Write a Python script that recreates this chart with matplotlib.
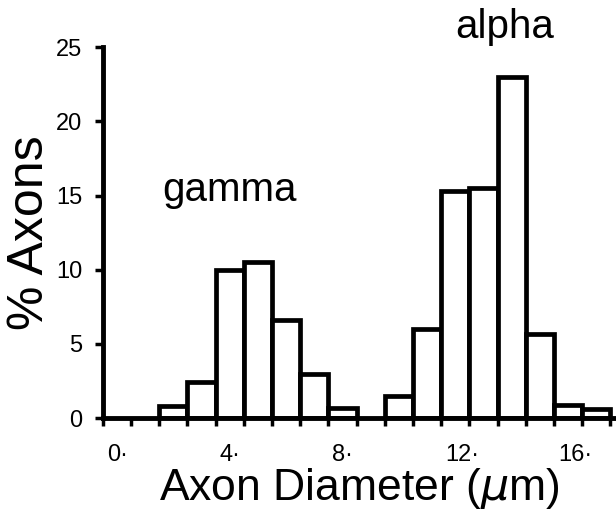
import matplotlib
matplotlib.use("Agg")
import matplotlib.pyplot as plt
import matplotlib.transforms as mtransforms

plt.rcParams['font.family'] = ['Liberation Sans', 'DejaVu Sans']

# fiber diameter histogram, 1 um bins (left edges)
gamma_bins = [2, 3, 4, 5, 6, 7, 8]
gamma_pct = [0.8, 2.4, 10.0, 10.5, 6.6, 3.0, 0.7]
alpha_bins = [10, 11, 12, 13, 14, 15, 16, 17]
alpha_pct = [1.5, 6.0, 15.3, 15.5, 23.0, 5.7, 0.9, 0.6]

x_major = [0, 4, 8, 12, 16]
x_labels = ['0·', '4·', '8·', '12·', '16·']
y_ticks = [0, 5, 10, 15, 20, 25]

fig = plt.figure(figsize=(6.16, 5.13), dpi=100)
ax = fig.add_axes([0.167, 0.185, 0.833, 0.723])

for bins, pct in [(gamma_bins, gamma_pct), (alpha_bins, alpha_pct)]:
    ax.bar(bins, pct, width=1.0, align='edge', facecolor='white',
           edgecolor='black', linewidth=3.4, zorder=2)

ax.set_xlim(0, 18.2)
ax.set_ylim(0, 25)

ax.spines['top'].set_visible(False)
ax.spines['right'].set_visible(False)
ax.spines['left'].set_linewidth(3.5)
ax.spines['bottom'].set_linewidth(3.5)
ax.spines['left'].set_zorder(3)
ax.spines['bottom'].set_zorder(3)

ax.set_yticks(y_ticks)
ax.set_yticklabels([str(v) for v in y_ticks], fontsize=17)
ax.set_xticks(x_major)
ax.set_xticks(range(0, 19), minor=True)
ax.set_xticklabels(x_labels, fontsize=17, ha='left')

ax.tick_params(axis='both', which='both', direction='out', length=6, width=2.5)
ax.tick_params(axis='y', pad=9)
ax.tick_params(axis='x', pad=13)

shift = mtransforms.ScaledTranslation(4 / 100, 0, fig.dpi_scale_trans)
for lab in ax.get_xticklabels():
    lab.set_transform(lab.get_transform() + shift)

ax.set_xlabel('Axon Diameter ($\\mu$m)', fontsize=32, labelpad=0)
ax.set_ylabel('% Axons', fontsize=36, labelpad=2)

ax.text(4.5, 14.6, 'gamma', fontsize=29, ha='center', va='baseline')
ax.text(14.26, 25.65, 'alpha', fontsize=29, ha='center', va='baseline',
        clip_on=False)

fig.savefig('out.png', dpi=100, facecolor='white')
